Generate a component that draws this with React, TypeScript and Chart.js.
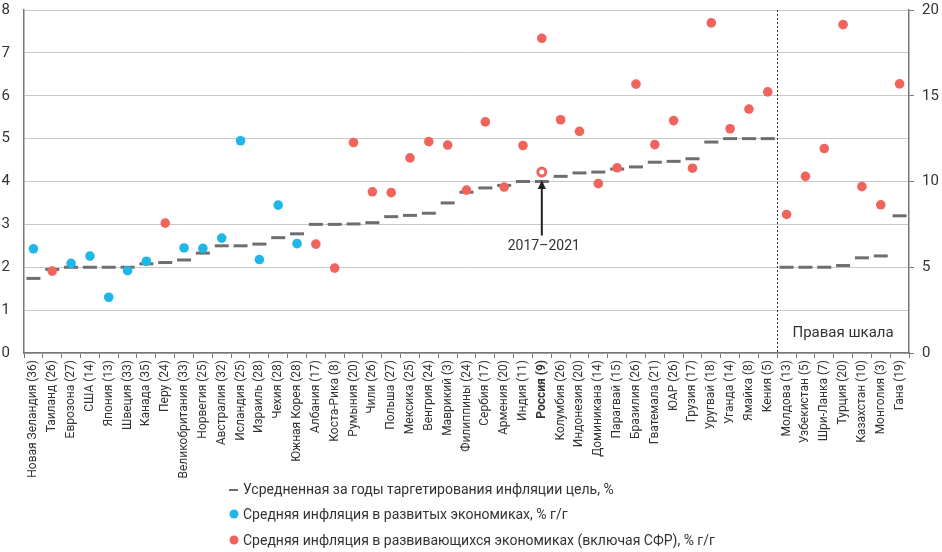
import React, { useEffect, useRef } from "react";
import Chart from "chart.js/auto";

const categories = [
  "Новая Зеландия (36)", "Таиланд (26)", "Еврозона (27)", "США (14)", "Япония (13)", "Швеция (33)",
  "Канада (35)", "Перу (24)", "Великобритания (33)", "Норвегия (25)", "Австралия (32)", "Исландия (25)",
  "Израиль (28)", "Чехия (28)", "Южная Корея (28)", "Албания (17)", "Коста-Рика (8)", "Румыния (20)",
  "Чили (26)", "Польша (27)", "Мексика (25)", "Венгрия (24)", "Маврикий (3)", "Филиппины (24)",
  "Сербия (17)", "Армения (20)", "Индия (11)", "Россия (9)", "Колумбия (26)", "Индонезия (20)",
  "Доминикана (14)", "Парагвай (15)", "Бразилия (26)", "Гватемала (21)", "ЮАР (26)", "Грузия (17)",
  "Уругвай (18)", "Уганда (14)", "Ямайка (8)", "Кения (5)", "Молдова (13)", "Узбекистан (5)",
  "Шри-Ланка (7)", "Турция (20)", "Казахстан (10)", "Монголия (3)", "Гана (19)",
];

// Target (left scale, first 40 categories)
const targetLeftValues = [
  1.74, 1.95, 2.0, 2.0, 2.0, 2.0, 2.08, 2.11, 2.17, 2.33, 2.5, 2.5, 2.54, 2.69, 2.78,
  3.0, 3.0, 3.01, 3.04, 3.18, 3.21, 3.26, 3.5, 3.75, 3.85, 3.91, 4.0, 4.0, 4.12, 4.2,
  4.22, 4.29, 4.34, 4.45, 4.47, 4.53, 4.92, 5.0, 5.0, 5.0,
];
// Target (right scale, last 7 categories)
const targetRightValues = [5.0, 5.0, 5.0, 5.1, 5.55, 5.66, 8.0];

// Developed economies average inflation (left scale)
const developed = [
  2.43, null, 2.09, 2.26, 1.3, 1.92, 2.14, null, 2.45, 2.44, 2.68, 4.95, 2.18, 3.45, 2.55,
];
// Emerging economies average inflation (left scale)
const emergingLeft = [
  null, 1.91, null, null, null, null, null, 3.03, null, null, null, null, null, null, null,
  2.54, 1.98, 4.91, 3.76, 3.74, 4.55, 4.93, 4.85, 3.8, 5.39, 3.87, 4.84, 7.34, 5.44, 5.17,
  3.95, 4.32, 6.27, 4.86, 5.42, 4.31, 7.7, 5.23, 5.69, 6.09,
];
// Emerging economies average inflation (right scale)
const emergingRight = [8.08, 10.3, 11.92, 19.15, 9.7, 8.64, 15.69];
// Russia 2017–2021
const russiaIndex = 27;
const russia2017_2021 = 4.22;

const N = categories.length;
const fill = (vals: (number | null)[], offset: number) => {
  const out: (number | null)[] = Array(N).fill(null);
  vals.forEach((v, i) => (out[offset + i] = v));
  return out;
};

const BLUE = "#1fb6ea";
const RED = "#f1645d";
const GREY = "#6e6e6e";
const TEXT = "#333333";
const FONT = "Roboto";

export default function App() {
  const ref = useRef<HTMLCanvasElement | null>(null);

  useEffect(() => {
    document.body.style.margin = "0";
    const canvas = ref.current!;
    const russiaData: (number | null)[] = Array(N).fill(null);
    russiaData[russiaIndex] = russia2017_2021;

    const overlay = {
      id: "overlay",
      afterDatasetsDraw(chart: any) {
        const { ctx, scales, chartArea } = chart;
        const x = scales.x;
        const y = scales.y;
        const y2 = scales.y2;
        ctx.save();
        // vertical dashed separator
        const sx = Math.round((x.getPixelForValue(39) + x.getPixelForValue(40)) / 2) + 0.5;
        ctx.strokeStyle = "#333";
        ctx.lineWidth = 1;
        ctx.setLineDash([2, 2]);
        ctx.beginPath();
        ctx.moveTo(sx, chartArea.top);
        ctx.lineTo(sx, chartArea.bottom);
        ctx.stroke();
        ctx.setLineDash([]);

        // arrow to Russia 2017-2021
        const ax = x.getPixelForValue(russiaIndex);
        const yTop = y.getPixelForValue(russia2017_2021) + 8;
        const yBot = y.getPixelForValue(2.74);
        ctx.strokeStyle = "#222";
        ctx.fillStyle = "#222";
        ctx.lineWidth = 2;
        ctx.beginPath();
        ctx.moveTo(ax, yBot);
        ctx.lineTo(ax, yTop + 6);
        ctx.stroke();
        ctx.beginPath();
        ctx.moveTo(ax, yTop);
        ctx.lineTo(ax - 4, yTop + 9);
        ctx.lineTo(ax + 4, yTop + 9);
        ctx.closePath();
        ctx.fill();

        ctx.fillStyle = TEXT;
        ctx.font = `14px ${FONT}`;
        ctx.textAlign = "center";
        ctx.textBaseline = "middle";
        ctx.fillText("2017–2021", ax + 2, y.getPixelForValue(2.48));

        ctx.font = `15px ${FONT}`;
        ctx.fillText("Правая шкала", x.getPixelForValue(43), y2.getPixelForValue(1.16));

        // legend
        const lx = 243;
        ctx.textAlign = "left";
        ctx.font = `14px ${FONT}`;
        ctx.fillStyle = TEXT;
        const rows = [
          "Усредненная за годы таргетирования инфляции цель, %",
          "Средняя инфляция в развитых экономиках, % г/г",
          "Средняя инфляция в развивающихся экономиках (включая СФР), % г/г",
        ];
        const ys = [490, 515, 541];
        rows.forEach((t, i) => ctx.fillText(t, lx, ys[i]));
        ctx.strokeStyle = GREY;
        ctx.lineWidth = 2;
        ctx.beginPath();
        ctx.moveTo(229, ys[0]);
        ctx.lineTo(238, ys[0]);
        ctx.stroke();
        ctx.fillStyle = BLUE;
        ctx.beginPath();
        ctx.arc(234, ys[1] - 1, 4.5, 0, Math.PI * 2);
        ctx.fill();
        ctx.fillStyle = RED;
        ctx.beginPath();
        ctx.arc(234, ys[2] - 1, 4.5, 0, Math.PI * 2);
        ctx.fill();
        ctx.restore();
      },
    };

    const dot = (color: string) => ({
      showLine: false,
      pointStyle: "circle",
      pointRadius: 4.8,
      pointHoverRadius: 4.8,
      pointBackgroundColor: color,
      pointBorderColor: color,
      pointBorderWidth: 0,
      borderColor: color,
      backgroundColor: color,
      order: 1,
    });
    const dash = {
      showLine: false,
      pointStyle: "line",
      pointRadius: 7,
      pointHoverRadius: 7,
      pointBorderColor: GREY,
      pointBorderWidth: 3,
      borderColor: GREY,
      order: 3,
    };

    const noPadY = (w: number) => (s: any) => {
      s.width = w;
      s.paddingTop = 0;
      s.paddingBottom = 0;
    };

    const chart = new Chart(canvas, {
      type: "line",
      data: {
        labels: categories,
        datasets: [
          { ...dash, label: "targetL", data: fill(targetLeftValues, 0), yAxisID: "y" },
          { ...dash, label: "targetR", data: fill(targetRightValues, 40), yAxisID: "y2" },
          { ...dot(BLUE), label: "dev", data: fill(developed, 0), yAxisID: "y" },
          { ...dot(RED), label: "emL", data: fill(emergingLeft, 0), yAxisID: "y" },
          { ...dot(RED), label: "emR", data: fill(emergingRight, 40), yAxisID: "y2" },
          {
            label: "ru",
            data: russiaData,
            yAxisID: "y",
            showLine: false,
            pointStyle: "circle",
            pointRadius: 4,
            pointBackgroundColor: "#ffffff",
            pointBorderColor: RED,
            pointBorderWidth: 3,
            borderColor: RED,
            order: 0,
          },
        ] as any,
      },
      options: {
        animation: false,
        responsive: true,
        maintainAspectRatio: false,
        layout: { padding: { top: 8, left: 0, right: 0, bottom: 0 } },
        plugins: { legend: { display: false }, tooltip: { enabled: false } },
        scales: {
          x: {
            offset: true,
            grid: { offset: true, drawOnChartArea: false, tickLength: 5, color: "#777", lineWidth: 1 },
            border: { color: "#777", width: 1.5 },
            ticks: {
              autoSkip: false,
              minRotation: 90,
              maxRotation: 90,
              padding: 2,
              color: TEXT,
              font: (c: any) =>
                c.index === russiaIndex
                  ? { family: FONT, size: 12, weight: "bold" }
                  : { family: FONT, size: 12 },
            },
            afterFit: (s: any) => {
              s.height = 199;
              s.paddingLeft = 0;
              s.paddingRight = 0;
            },
          },
          y: {
            position: "left",
            min: 0,
            max: 8,
            ticks: { stepSize: 1, padding: 14, color: TEXT, font: { family: FONT, size: 15 } },
            grid: { color: "#c8c8c8", lineWidth: 1, drawTicks: false },
            border: { color: "#777", width: 1.5 },
            afterFit: noPadY(24),
          },
          y2: {
            position: "right",
            min: 0,
            max: 20,
            ticks: { stepSize: 5, padding: 8, color: TEXT, font: { family: FONT, size: 15 } },
            grid: { drawOnChartArea: false, tickLength: 5, color: "#777" },
            border: { color: "#777", width: 1.5 },
            afterFit: noPadY(33),
          },
        },
      } as any,
      plugins: [overlay],
    });
    return () => chart.destroy();
  }, []);

  return (
    <div style={{ position: "relative", width: 942, height: 552 }}>
      <canvas ref={ref} />
    </div>
  );
}
